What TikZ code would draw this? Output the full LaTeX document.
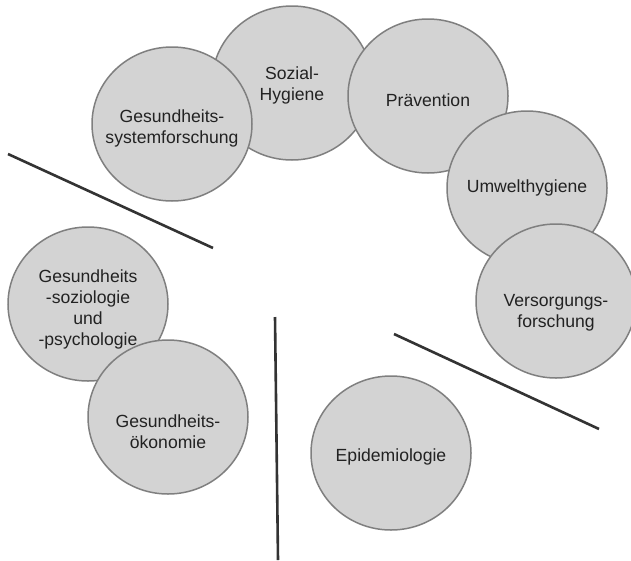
\documentclass[tikz,border=0pt]{standalone}
\usepackage{fontspec}
\setmainfont{Liberation Sans}
\usetikzlibrary{shapes.geometric, positioning}
\definecolor{bubblefill}{HTML}{D3D3D3}
\definecolor{bubbleline}{HTML}{7F7F7F}
\definecolor{divider}{HTML}{333333}
\definecolor{topictext}{HTML}{222222}

\begin{document}
\begin{tikzpicture}[x=1pt, y=-1pt,
    topic/.style={ellipse, draw=bubbleline, line width=1.5pt, fill=bubblefill,
      minimum width=160pt, minimum height=154pt, inner sep=0pt},
    topiclabel/.style={align=center, text=topictext, inner sep=0pt,
      font=\fontsize{17.6}{21}\selectfont},
    divline/.style={draw=divider, line width=2.6pt}]
  \useasboundingbox (0,0) rectangle (631,560);

  % upper arc of bubbles
  \node[topic] (sozial)   at (292,83)  {};
  \node[topic] (system)   at (172,124) {};
  \node[topic] (praev)    at (428,96)  {};
  \node[topic] (umwelt)   at (527,188) {};
  \node[topic] (versorg)  at (556,301) {};

  % left and bottom bubbles
  \node[topic] (soziol)   at (88,304)  {};
  \node[topic] (oekon)    at (168,417) {};
  \node[topic] (epi)      at (391,453) {};

  % texts on top of all bubbles
  \node[topiclabel] (sozial-t)  at ([yshift=-2pt]sozial)  {Sozial-\\Hygiene};
  \node[topiclabel] (system-t)  at ([yshift=-4pt]system)  {Gesundheits-\\systemforschung};
  \node[topiclabel] (praev-t)   at ([yshift=-4pt]praev)   {Prävention};
  \node[topiclabel] (umwelt-t)  at (umwelt)               {Umwelthygiene};
  \node[topiclabel] (versorg-t) at ([yshift=-12pt]versorg) {Versorgungs-\\forschung};
  \node[topiclabel] (soziol-t)  at ([yshift=-5pt]soziol)  {Gesundheits\\-soziologie\\und\\-psychologie};
  \node[topiclabel] (oekon-t)   at ([yshift=-15pt]oekon)  {Gesundheits-\\ökonomie};
  \node[topiclabel] (epi-t)     at ([yshift=-4pt]epi)     {Epidemiologie};

  % dividing lines
  \coordinate (d1a) at (8,154);   \coordinate (d1b) at (213,248);
  \coordinate (d2a) at (275,317); \coordinate (d2b) at (278,560);
  \coordinate (d3a) at (394,334); \coordinate (d3b) at (599,429);
  \draw[divline] (d1a) -- (d1b);
  \draw[divline] (d2a) -- (d2b);
  \draw[divline] (d3a) -- (d3b);

\end{tikzpicture}
\end{document}
